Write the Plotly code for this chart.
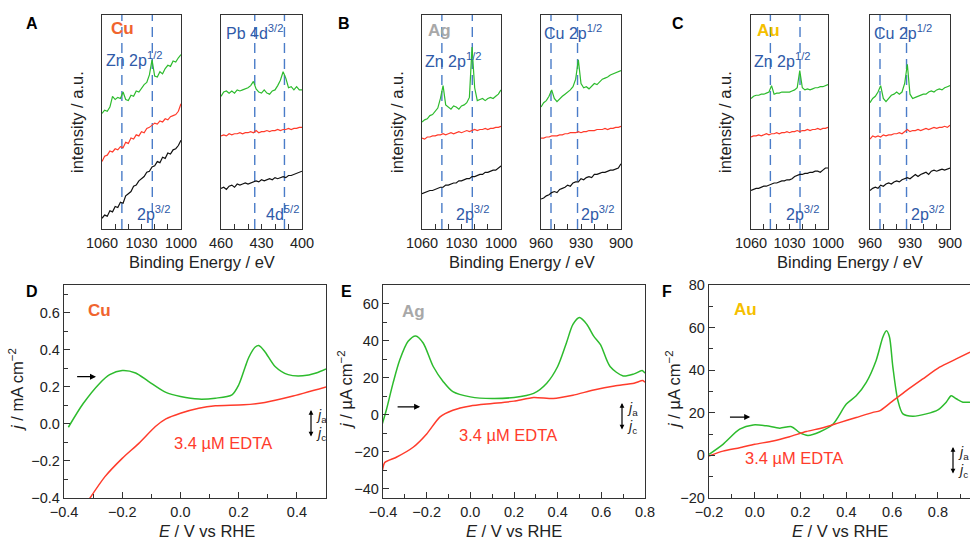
import plotly.graph_objects as go

# ---------------- XPS spectra (intensity in a.u.) ----------------
BE_ZN = list(range(1060, 999, -2))
BE_PB = list(range(460, 399, -2))
BE_CU = list(range(960, 899, -2))

A_ZN_GREEN = [54, 55.5, 55, 57, 62, 60.5, 61.5, 61, 64, 60.5, 60, 62.5, 62, 64.5, 64, 66, 67.5, 68.5, 72, 79, 71.5, 71, 73.5, 72.5, 75, 76.5, 76, 78.5, 78, 80, 81.5]
A_ZN_RED = [31.5, 34, 34.5, 36.5, 36, 37.5, 37, 38.5, 38, 40.5, 40, 42.5, 42, 44, 43.5, 45.5, 45, 47, 47.5, 48.5, 49.5, 49, 50.5, 50, 51.5, 51, 52.5, 53, 53.5, 55, 58.5]
A_ZN_BLACK = [5, 6.5, 6, 8.5, 8, 10.5, 10, 12.5, 12, 15.5, 16.5, 17.5, 20, 20.5, 22.5, 23.5, 24.5, 26.5, 27, 29, 29.5, 31.5, 31, 33.5, 33, 35.5, 35, 37, 37.5, 39, 41.5]
A_PB_GREEN = [62, 64, 64.5, 63.5, 64.5, 63.5, 65, 64.5, 65, 65.5, 66, 67, 69, 65.5, 64, 63.5, 65, 63.5, 63, 64.5, 65, 67, 69.5, 73.5, 70.5, 66, 66.5, 65, 66.5, 65, 65]
A_PB_RED = [43.5, 44, 43.5, 44.5, 44, 44.5, 44.5, 45, 44.5, 45, 45, 45.5, 45, 46, 45, 45.5, 45.5, 46, 45.5, 46, 46, 46.5, 46, 46.5, 46.5, 47, 46.5, 47, 47, 47.5, 47.5]
A_PB_BLACK = [19, 19.5, 18.5, 20, 20.5, 19.5, 21, 20.5, 21, 21.5, 21, 21.5, 22, 22.5, 22, 23, 22.5, 23, 23.5, 23, 24, 23.5, 24, 24.5, 24, 25, 25, 25.5, 26, 26.5, 27]

B_ZN_GREEN = [50, 51, 51.5, 53, 53.5, 55, 56.5, 61, 67, 58, 57, 56, 57.5, 57, 56, 57.5, 58, 59, 61.5, 85, 66, 60, 60.5, 61, 60, 61, 61.5, 61, 62, 63, 65]
B_ZN_RED = [42.5, 42, 43, 43, 43.5, 43.5, 44, 44, 44.5, 44, 44.5, 45, 44.5, 45, 45.5, 45, 45.5, 46, 45.5, 46, 46.5, 46, 46.5, 46.5, 47, 46.5, 47, 47, 47.5, 47.5, 48]
B_ZN_BLACK = [16.5, 17, 17.5, 18, 18, 18.5, 19, 19.5, 19.5, 20.5, 20.5, 21, 21.5, 21.5, 22.5, 22.5, 23, 23.5, 23.5, 24.5, 24.5, 25, 25.5, 25.5, 26.5, 26.5, 27, 27.5, 27.5, 28.5, 29.5]
B_CU_GREEN = [57, 59, 60, 62, 65, 61, 59.5, 61, 62, 63, 64, 65, 66.5, 70, 79, 68, 66, 66.5, 65.5, 67, 68, 67.5, 69, 70, 70.5, 71, 72, 72.5, 73, 73.5, 74]
B_CU_RED = [42.5, 42.5, 43, 43, 43.5, 43.5, 43.5, 44, 44, 44.5, 44.5, 45, 45, 45, 45.5, 45, 45.5, 45.5, 46, 46, 46, 46.5, 46.5, 46.5, 47, 46.5, 47, 47, 47.5, 47.5, 48]
B_CU_BLACK = [14, 14.5, 15.5, 16, 17, 17.5, 17, 18.5, 19, 19.5, 20.5, 20, 21.5, 22, 22, 23.5, 23, 24, 24.5, 24, 25.5, 25.5, 26, 26.5, 26.5, 27, 27.5, 27.5, 28, 28.5, 30.5]

C_ZN_GREEN = [61, 62, 62.5, 62.5, 63, 63, 63.5, 64, 67, 63, 63.5, 63.5, 64, 64, 64, 64, 64.5, 65, 66, 74, 66, 65, 65.5, 65, 65.5, 66, 66, 66.5, 66.5, 67, 67.5]
C_ZN_RED = [43, 43.5, 43.5, 44, 43.5, 44, 44.5, 44, 44.5, 44.5, 45, 44.5, 45, 45, 45.5, 45, 45.5, 45.5, 46, 45.5, 46, 46, 46.5, 46, 46.5, 46.5, 47, 46.5, 47, 47, 47.5]
C_ZN_BLACK = [18, 18.5, 19, 19, 19.5, 20, 20, 20.5, 21, 21.5, 21.5, 22, 22.5, 22.5, 23, 23, 23.5, 24.5, 25, 25.5, 25.5, 26, 26, 26.5, 26.5, 27, 27, 26.5, 27.5, 28.5, 28.5]
C_CU_GREEN = [59, 61, 62, 64, 67, 61, 59.5, 61, 62.5, 63, 64, 63, 64, 68, 77, 63, 61, 61.5, 62, 62.5, 63, 63, 64, 64.5, 64, 65, 65.5, 65, 66, 66.5, 67]
C_CU_RED = [42, 43.5, 43, 43.5, 43, 44, 43.5, 44, 44, 44.5, 44.5, 45, 44.5, 45.5, 46.5, 45.5, 46, 46, 46.5, 46, 46.5, 47, 46.5, 47, 47.5, 47, 47.5, 47.5, 48, 47.5, 48.5]
C_CU_BLACK = [18, 19, 19.5, 19, 20.5, 20, 21, 21.5, 21, 22, 22.5, 22, 23, 23.5, 24, 23.5, 24.5, 25.5, 24.5, 25.5, 26, 26.5, 25.5, 27, 27.5, 27, 27.5, 28, 27.5, 28, 28.5]

# reference peak positions (eV)
ZN_PEAKS = [1044.9, 1021.8]
PB_PEAKS = [435.0, 413.0]
CU_PEAKS = [952.5, 932.6]

# ---------------- voltammograms ----------------
D_E_GREEN = [-0.385, -0.334, -0.277, -0.243, -0.2, -0.154, -0.11, -0.05, 0.0, 0.063, 0.12, 0.177, 0.2, 0.223, 0.235, 0.257, 0.269, 0.29, 0.325, 0.37, 0.42, 0.466, 0.5]
D_J_GREEN = [-0.018, 0.11, 0.22, 0.266, 0.288, 0.275, 0.23, 0.17, 0.148, 0.134, 0.139, 0.157, 0.21, 0.31, 0.36, 0.415, 0.423, 0.39, 0.31, 0.266, 0.26, 0.275, 0.297]
D_E_RED = [-0.315, -0.26, -0.2, -0.143, -0.086, -0.05, 0.0, 0.063, 0.12, 0.217, 0.29, 0.38, 0.5]
D_J_RED = [-0.41, -0.286, -0.186, -0.105, -0.014, 0.027, 0.058, 0.085, 0.098, 0.103, 0.116, 0.148, 0.2]

E_E_GREEN = [-0.403, -0.385, -0.354, -0.323, -0.285, -0.25, -0.216, -0.17, -0.124, -0.08, 0.0, 0.1, 0.2, 0.29, 0.35, 0.4, 0.44, 0.47, 0.5, 0.534, 0.565, 0.596, 0.64, 0.7, 0.75, 0.787, 0.8]
E_J_GREEN = [-4.9, 2.4, 17, 29.6, 39.6, 42.5, 38.7, 26, 17.8, 12.4, 9.6, 8.7, 9.3, 11.5, 17, 26, 38.7, 48.7, 52.4, 48.7, 42.4, 37.8, 26, 20.9, 22, 23.8, 22.4]
E_E_RED = [-0.403, -0.392, -0.339, -0.262, -0.2, -0.14, -0.08, 0.0, 0.1, 0.2, 0.29, 0.38, 0.47, 0.565, 0.66, 0.75, 0.79, 0.8]
E_J_RED = [-30.4, -25.8, -23, -17.6, -10.4, -1.3, 2.4, 4.7, 6, 7.3, 9.3, 8.7, 10.5, 13.3, 15.5, 17, 18.4, 17.5]

F_E_GREEN = [-0.2, -0.139, -0.066, -0.007, 0.05, 0.109, 0.16, 0.196, 0.232, 0.283, 0.341, 0.4, 0.443, 0.487, 0.53, 0.56, 0.575, 0.588, 0.603, 0.625, 0.647, 0.69, 0.749, 0.8, 0.836, 0.858, 0.88, 0.909, 0.94]
F_J_GREEN = [0.5, 5.2, 12.3, 14.3, 13.9, 12.8, 13.5, 10.7, 9.4, 11, 14.6, 24.1, 28, 34.3, 44.6, 55.7, 58.5, 55.7, 41.6, 25.8, 19.5, 18.4, 19.5, 21.4, 25, 28, 26.6, 25, 25]
F_E_RED = [-0.2, -0.139, -0.066, 0.0, 0.08, 0.152, 0.225, 0.298, 0.37, 0.443, 0.516, 0.545, 0.589, 0.662, 0.734, 0.807, 0.88, 0.94]
F_J_RED = [-0.3, 2, 3.6, 5.2, 6.8, 8.8, 11.2, 13, 15.4, 17.8, 20.2, 20.9, 24.4, 30.4, 35.9, 41.4, 45.3, 48.5]

W, H = 970, 540
GREEN = "#2dbb2d"
RED = "#ff3b2b"
BLACK = "#111111"
BLUE_TXT = "#2f5aa8"
BLUE_LN = "#4a7cc8"
AX = "#333333"
FONT = "Liberation Sans, Arial, sans-serif"


def px(x):
    return x / W


def py(y):
    return 1 - y / H


fig = go.Figure()

# ---------- top row: six narrow boxes ----------
top = [
    (1, BE_ZN, [A_ZN_GREEN, A_ZN_RED, A_ZN_BLACK], (102, 181), [1060, 1000], 1000, ZN_PEAKS),
    (2, BE_PB, [A_PB_GREEN, A_PB_RED, A_PB_BLACK], (221, 302), [460, 400], 400, PB_PEAKS),
    (3, BE_ZN, [B_ZN_GREEN, B_ZN_RED, B_ZN_BLACK], (422, 501), [1060, 1000], 1000, ZN_PEAKS),
    (4, BE_CU, [B_CU_GREEN, B_CU_RED, B_CU_BLACK], (541, 621), [960, 900], 900, CU_PEAKS),
    (5, BE_ZN, [C_ZN_GREEN, C_ZN_RED, C_ZN_BLACK], (751, 828), [1060, 1000], 1000, ZN_PEAKS),
    (6, BE_CU, [C_CU_GREEN, C_CU_RED, C_CU_BLACK], (870, 950), [960, 900], 900, CU_PEAKS),
]

layout_axes = {}
shapes = []
for n, xs, ys, (x0, x1), rng, t0, peaks in top:
    sfx = "" if n == 1 else str(n)
    for yy, col in zip(ys, [GREEN, RED, BLACK]):
        fig.add_trace(go.Scatter(x=xs, y=yy, mode="lines", line=dict(color=col, width=1.2),
                                 xaxis="x" + sfx, yaxis="y" + sfx, showlegend=False))
    layout_axes["xaxis" + sfx] = dict(
        domain=[px(x0), px(x1)], range=rng, anchor="y" + sfx, automargin=False,
        tick0=t0, dtick=30, ticks="inside", ticklen=5, tickcolor=AX,
        minor=dict(dtick=10, tick0=t0, ticks="inside", ticklen=5, tickcolor=AX),
        showline=True, linecolor=AX, linewidth=1.3, mirror=True,
        showgrid=False, zeroline=False, tickfont=dict(size=14.5, color="#222"))
    layout_axes["yaxis" + sfx] = dict(
        domain=[py(229), py(15)], range=[0, 100], anchor="x" + sfx, automargin=False,
        showticklabels=False, ticks="", showline=True, linecolor=AX, linewidth=1.3,
        mirror=True, showgrid=False, zeroline=False)
    for p in peaks:
        shapes.append(dict(type="line", xref="x" + sfx, yref="y" + sfx + " domain",
                           x0=p, x1=p, y0=0, y1=1,
                           line=dict(color=BLUE_LN, width=1.4, dash="10px,6px"), layer="below"))

# ---------- bottom row: voltammograms ----------
bottom = [
    (7, D_E_GREEN, D_J_GREEN, D_E_RED, D_J_RED, (64, 326), [-0.4, 0.5], [-0.4, 0.75], 0.2, 0.1),
    (8, E_E_GREEN, E_J_GREEN, E_E_RED, E_J_RED, (383, 645), [-0.4, 0.8], [-45, 70], 20, 10),
    (9, F_E_GREEN, F_J_GREEN, F_E_RED, F_J_RED, (709, 970), [-0.2, 0.94], [-20, 80], 20, 10),
]
for n, eg, jg, er, jr, (x0, x1), xr, yr, ydt, ymn in bottom:
    sfx = str(n)
    fig.add_trace(go.Scatter(x=eg, y=jg, mode="lines", line=dict(color=GREEN, width=1.5, shape="spline", smoothing=0.8),
                             xaxis="x" + sfx, yaxis="y" + sfx, showlegend=False))
    fig.add_trace(go.Scatter(x=er, y=jr, mode="lines", line=dict(color=RED, width=1.5, shape="spline", smoothing=0.6),
                             xaxis="x" + sfx, yaxis="y" + sfx, showlegend=False))
    layout_axes["xaxis" + sfx] = dict(
        domain=[px(x0), px(x1)], range=xr, anchor="y" + sfx, automargin=False,
        tick0=0, dtick=0.2, tickformat=".1f", ticks="inside", ticklen=6, tickcolor=AX,
        minor=dict(dtick=0.1, ticks="inside", ticklen=4, tickcolor=AX),
        showline=True, linecolor=AX, linewidth=1.3, mirror=True,
        showgrid=False, zeroline=False, tickfont=dict(size=14.5, color="#222"))
    layout_axes["yaxis" + sfx] = dict(
        domain=[py(498), py(285)], range=yr, anchor="x" + sfx, automargin=False,
        tick0=0, dtick=ydt, ticks="inside", ticklen=6, tickcolor=AX,
        tickformat=".1f" if n == 7 else "d",
        minor=dict(dtick=ymn, ticks="inside", ticklen=4, tickcolor=AX),
        showline=True, linecolor=AX, linewidth=1.3, mirror=(n != 9),
        showgrid=False, zeroline=False, tickfont=dict(size=14.5, color="#222"))

ann = []


def text(x, y, s, size=16, color="#222", xanchor="center", bold=False, angle=0):
    if bold:
        s = "<b>" + s + "</b>"
    ann.append(dict(x=px(x), y=py(y), xref="paper", yref="paper", text=s, showarrow=False,
                    xanchor=xanchor, yanchor="middle", textangle=angle,
                    font=dict(size=size, color=color, family=FONT)))


# panel letters
for lab, x, y in [("A", 32, 23), ("B", 344, 23), ("C", 678, 23), ("D", 32, 291), ("E", 346, 291), ("F", 667, 291)]:
    text(x, y, lab, size=16, color="#000", bold=True)

# metal labels
text(109, 29, "Cu", color="#f0642e", xanchor="left", bold=True, size=17)
text(426, 31, "Ag", color="#a8a8a8", xanchor="left", bold=True, size=17)
text(755, 30, "Au", color="#f5bf00", xanchor="left", bold=True, size=17)

# peak labels
for x, y, s in [(104, 59, "Zn 2p<sup>1/2</sup>"), (224, 32, "Pb 4d<sup>3/2</sup>"),
                (135, 213, "2p<sup>3/2</sup>"), (264, 213, "4d<sup>5/2</sup>"),
                (423, 60, "Zn 2p<sup>1/2</sup>"), (542, 32, "Cu 2p<sup>1/2</sup>"),
                (454, 213, "2p<sup>3/2</sup>"), (579, 213, "2p<sup>3/2</sup>"),
                (752, 60, "Zn 2p<sup>1/2</sup>"), (872, 32, "Cu 2p<sup>1/2</sup>"),
                (784, 213, "2p<sup>3/2</sup>"), (909, 213, "2p<sup>3/2</sup>")]:
    text(x, y, s, size=16, color=BLUE_TXT, xanchor="left")

# axis titles (top)
for x in [202, 522, 850]:
    text(x, 262, "Binding Energy / eV", size=16.5)
for x in [77, 397, 725]:
    text(x, 122, "intensity / a.u.", size=16.5, angle=-90)

# axis titles (bottom)
for x in [207, 514, 840]:
    text(x, 531, "<i>E</i> / V vs RHE", size=16.5)
text(16, 390, "<i>j</i> / mA cm<sup>\u22122</sup>", size=16.5, angle=-90)
text(345, 390, "<i>j</i> / \u00b5A cm<sup>\u22122</sup>", size=16.5, angle=-90)
text(673, 390, "<i>j</i> / \u00b5A cm<sup>\u22122</sup>", size=16.5, angle=-90)

# panel text labels
text(86, 310, "Cu", color="#f0642e", xanchor="left", bold=True, size=17)
text(400, 311, "Ag", color="#a8a8a8", xanchor="left", bold=True, size=17)
text(732, 309, "Au", color="#f5bf00", xanchor="left", bold=True, size=17)
text(172, 443, "3.4 \u00b5M EDTA", color=RED, xanchor="left", size=16.5)
text(457, 435, "3.4 \u00b5M EDTA", color=RED, xanchor="left", size=16.5)
text(743, 458, "3.4 \u00b5M EDTA", color=RED, xanchor="left", size=16.5)

# scan-direction arrows
for n, xh, xt, yv in [(7, -0.29, -0.36, 0.255), (8, -0.23, -0.34, 4.2), (9, -0.02, -0.115, 18)]:
    ann.append(dict(x=xh, y=yv, ax=xt, ay=yv, xref="x%d" % n, yref="y%d" % n,
                    axref="x%d" % n, ayref="y%d" % n, text="", showarrow=True,
                    arrowhead=2, arrowsize=1, arrowwidth=1.2, arrowcolor="#000"))

# j_a / j_c markers
for x, ytop in [(311, 410), (622, 403), (953, 447)]:
    ann.append(dict(x=px(x), y=py(ytop), xref="paper", yref="paper", ax=0, ay=28, axref="pixel", ayref="pixel",
                    text="", showarrow=True, arrowhead=2, startarrowhead=2, arrowside="end+start",
                    arrowsize=0.8, arrowwidth=1.2, arrowcolor="#000"))
    text(x + 3, ytop + 6, "<i>j</i><sub>a</sub>", size=14, color="#222", xanchor="left")
    text(x + 3, ytop + 24, "<i>j</i><sub>c</sub>", size=14, color="#222", xanchor="left")

fig.update_layout(
    template="none",
    width=W, height=H, margin=dict(l=0, r=0, t=0, b=0, pad=0, autoexpand=False),
    paper_bgcolor="white", plot_bgcolor="white",
    font=dict(family=FONT, size=14, color="#222"),
    shapes=shapes, annotations=ann, showlegend=False,
    **layout_axes)

# page body margin would shift the 970x540 figure inside the window
fig.write_html("out.html", config={"displayModeBar": False},
               post_script="document.body.style.margin='0';document.body.style.overflow='hidden';")
